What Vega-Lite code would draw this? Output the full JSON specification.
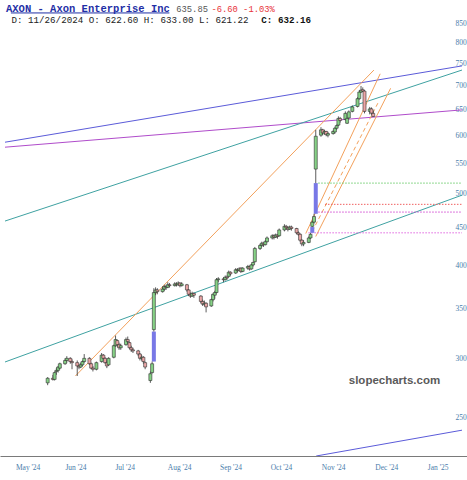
{
  "$schema": "https://vega.github.io/schema/vega-lite/v6.json",
  "width": 467,
  "height": 456,
  "autosize": {"type": "none"},
  "padding": {"left": 0, "top": 0, "right": 0, "bottom": 24},
  "background": "white",
  "config": {"view": {"stroke": null}},
  "title": {
    "text": "AXON - Axon Enterprise Inc",
    "subtitle": "\u200b\u00a0D: 11/26/2024 O: 622.60 H: 633.00 L: 621.22",
    "anchor": "start",
    "frame": "group",
    "offset": -25.5,
    "dx": 6,
    "font": "Liberation Mono",
    "fontSize": 10.5,
    "fontWeight": "bold",
    "color": "#1f2fa6",
    "subtitleFont": "Liberation Mono",
    "subtitleFontSize": 9.2,
    "subtitleColor": "#222222",
    "subtitlePadding": 2
  },
  "datasets": {
    "candles": [
      {"d":"2024-06-07","o":278,"h":283,"l":276,"c":282},
      {"d":"2024-06-10","o":282,"h":285,"l":280,"c":281},
      {"d":"2024-06-11","o":281,"h":288,"l":280,"c":287},
      {"d":"2024-06-12","o":288,"h":291,"l":285,"c":289},
      {"d":"2024-06-13","o":289,"h":293,"l":287,"c":292},
      {"d":"2024-06-14","o":291,"h":296,"l":290,"c":295},
      {"d":"2024-06-17","o":295,"h":300,"l":294,"c":298},
      {"d":"2024-06-18","o":298,"h":302,"l":296,"c":300},
      {"d":"2024-06-20","o":300,"h":301,"l":295,"c":297},
      {"d":"2024-06-21","o":297,"h":299,"l":290,"c":296},
      {"d":"2024-06-24","o":296,"h":298,"l":284,"c":293},
      {"d":"2024-06-25","o":293,"h":295,"l":290,"c":292},
      {"d":"2024-06-26","o":292,"h":296,"l":291,"c":294},
      {"d":"2024-06-27","o":294,"h":298,"l":293,"c":297},
      {"d":"2024-06-28","o":297,"h":304,"l":296,"c":300},
      {"d":"2024-07-01","o":300,"h":301,"l":294,"c":295},
      {"d":"2024-07-02","o":295,"h":296,"l":290,"c":291},
      {"d":"2024-07-03","o":291,"h":293,"l":288,"c":290},
      {"d":"2024-07-05","o":290,"h":297,"l":289,"c":296},
      {"d":"2024-07-08","o":297,"h":305,"l":296,"c":303},
      {"d":"2024-07-09","o":303,"h":304,"l":299,"c":300},
      {"d":"2024-07-10","o":300,"h":301,"l":295,"c":296},
      {"d":"2024-07-11","o":296,"h":298,"l":291,"c":293},
      {"d":"2024-07-12","o":294,"h":301,"l":293,"c":300},
      {"d":"2024-07-15","o":301,"h":313,"l":300,"c":312},
      {"d":"2024-07-16","o":312,"h":322,"l":311,"c":318},
      {"d":"2024-07-17","o":317,"h":318,"l":311,"c":313},
      {"d":"2024-07-18","o":313,"h":315,"l":308,"c":310},
      {"d":"2024-07-19","o":310,"h":314,"l":308,"c":312},
      {"d":"2024-07-22","o":313,"h":320,"l":312,"c":318},
      {"d":"2024-07-23","o":318,"h":321,"l":314,"c":316},
      {"d":"2024-07-24","o":315,"h":316,"l":309,"c":310},
      {"d":"2024-07-25","o":310,"h":312,"l":306,"c":308},
      {"d":"2024-07-26","o":308,"h":310,"l":305,"c":307},
      {"d":"2024-07-29","o":307,"h":308,"l":302,"c":304},
      {"d":"2024-07-30","o":304,"h":305,"l":298,"c":300},
      {"d":"2024-07-31","o":300,"h":303,"l":298,"c":301},
      {"d":"2024-08-01","o":301,"h":302,"l":295,"c":297},
      {"d":"2024-08-02","o":296,"h":297,"l":290,"c":292},
      {"d":"2024-08-05","o":280,"h":288,"l":278,"c":286},
      {"d":"2024-08-06","o":287,"h":297,"l":286,"c":295},
      {"d":"2024-08-07","o":328,"h":373,"l":326,"c":368},
      {"d":"2024-08-08","o":368,"h":374,"l":365,"c":371},
      {"d":"2024-08-09","o":371,"h":373,"l":366,"c":369},
      {"d":"2024-08-12","o":369,"h":375,"l":368,"c":372},
      {"d":"2024-08-13","o":372,"h":377,"l":370,"c":375},
      {"d":"2024-08-14","o":375,"h":377,"l":371,"c":374},
      {"d":"2024-08-15","o":374,"h":380,"l":373,"c":377},
      {"d":"2024-08-16","o":377,"h":379,"l":374,"c":376},
      {"d":"2024-08-19","o":376,"h":380,"l":375,"c":378},
      {"d":"2024-08-20","o":378,"h":380,"l":375,"c":377},
      {"d":"2024-08-21","o":377,"h":381,"l":376,"c":379},
      {"d":"2024-08-22","o":379,"h":380,"l":374,"c":376},
      {"d":"2024-08-23","o":376,"h":380,"l":375,"c":378},
      {"d":"2024-08-26","o":377,"h":378,"l":369,"c":371},
      {"d":"2024-08-27","o":371,"h":372,"l":364,"c":366},
      {"d":"2024-08-28","o":366,"h":368,"l":362,"c":364},
      {"d":"2024-08-29","o":364,"h":369,"l":363,"c":367},
      {"d":"2024-08-30","o":367,"h":368,"l":362,"c":365},
      {"d":"2024-09-03","o":364,"h":365,"l":356,"c":358},
      {"d":"2024-09-04","o":358,"h":360,"l":353,"c":355},
      {"d":"2024-09-05","o":355,"h":359,"l":353,"c":356},
      {"d":"2024-09-06","o":356,"h":357,"l":346,"c":352},
      {"d":"2024-09-09","o":353,"h":361,"l":352,"c":360},
      {"d":"2024-09-10","o":360,"h":367,"l":358,"c":366},
      {"d":"2024-09-11","o":365,"h":370,"l":361,"c":368},
      {"d":"2024-09-12","o":368,"h":385,"l":367,"c":383},
      {"d":"2024-09-13","o":383,"h":386,"l":380,"c":384},
      {"d":"2024-09-16","o":384,"h":386,"l":380,"c":383},
      {"d":"2024-09-17","o":383,"h":388,"l":382,"c":386},
      {"d":"2024-09-18","o":386,"h":388,"l":383,"c":385},
      {"d":"2024-09-19","o":387,"h":394,"l":386,"c":392},
      {"d":"2024-09-20","o":392,"h":393,"l":388,"c":390},
      {"d":"2024-09-23","o":391,"h":397,"l":390,"c":395},
      {"d":"2024-09-24","o":395,"h":397,"l":392,"c":394},
      {"d":"2024-09-25","o":394,"h":398,"l":393,"c":396},
      {"d":"2024-09-26","o":397,"h":398,"l":391,"c":393},
      {"d":"2024-09-27","o":393,"h":398,"l":392,"c":397},
      {"d":"2024-09-30","o":397,"h":401,"l":395,"c":399},
      {"d":"2024-10-01","o":399,"h":400,"l":394,"c":396},
      {"d":"2024-10-02","o":396,"h":402,"l":395,"c":401},
      {"d":"2024-10-03","o":401,"h":405,"l":399,"c":404},
      {"d":"2024-10-04","o":405,"h":424,"l":404,"c":422},
      {"d":"2024-10-07","o":422,"h":428,"l":420,"c":426},
      {"d":"2024-10-08","o":426,"h":431,"l":424,"c":429},
      {"d":"2024-10-09","o":429,"h":430,"l":424,"c":427},
      {"d":"2024-10-10","o":427,"h":433,"l":426,"c":431},
      {"d":"2024-10-11","o":431,"h":438,"l":430,"c":436},
      {"d":"2024-10-14","o":436,"h":441,"l":434,"c":439},
      {"d":"2024-10-15","o":439,"h":441,"l":434,"c":437},
      {"d":"2024-10-16","o":437,"h":442,"l":436,"c":440},
      {"d":"2024-10-17","o":440,"h":441,"l":435,"c":438},
      {"d":"2024-10-18","o":439,"h":449,"l":438,"c":447},
      {"d":"2024-10-21","o":447,"h":455,"l":445,"c":452},
      {"d":"2024-10-22","o":452,"h":454,"l":447,"c":450},
      {"d":"2024-10-23","o":450,"h":452,"l":445,"c":448},
      {"d":"2024-10-24","o":448,"h":453,"l":447,"c":451},
      {"d":"2024-10-25","o":451,"h":453,"l":446,"c":449},
      {"d":"2024-10-28","o":449,"h":450,"l":441,"c":443},
      {"d":"2024-10-29","o":443,"h":445,"l":439,"c":441},
      {"d":"2024-10-30","o":441,"h":442,"l":431,"c":433},
      {"d":"2024-10-31","o":433,"h":434,"l":425,"c":428},
      {"d":"2024-11-01","o":428,"h":433,"l":425,"c":430},
      {"d":"2024-11-04","o":430,"h":438,"l":429,"c":436},
      {"d":"2024-11-05","o":436,"h":443,"l":435,"c":441},
      {"d":"2024-11-06","o":452,"h":460,"l":451,"c":458},
      {"d":"2024-11-07","o":458,"h":470,"l":456,"c":466},
      {"d":"2024-11-08","o":540,"h":610,"l":517,"c":598},
      {"d":"2024-11-11","o":600,"h":615,"l":597,"c":610},
      {"d":"2024-11-12","o":610,"h":612,"l":600,"c":604},
      {"d":"2024-11-13","o":604,"h":610,"l":601,"c":607},
      {"d":"2024-11-14","o":607,"h":608,"l":598,"c":601},
      {"d":"2024-11-15","o":600,"h":606,"l":596,"c":603},
      {"d":"2024-11-18","o":603,"h":609,"l":601,"c":607},
      {"d":"2024-11-19","o":606,"h":615,"l":603,"c":613},
      {"d":"2024-11-20","o":613,"h":620,"l":610,"c":618},
      {"d":"2024-11-21","o":619,"h":636,"l":617,"c":632},
      {"d":"2024-11-22","o":632,"h":635,"l":624,"c":628},
      {"d":"2024-11-25","o":630,"h":646,"l":628,"c":642},
      {"d":"2024-11-26","o":622.6,"h":633,"l":621.22,"c":632.16},
      {"d":"2024-11-27","o":633,"h":648,"l":631,"c":645},
      {"d":"2024-11-29","o":646,"h":658,"l":644,"c":655},
      {"d":"2024-12-02","o":656,"h":675,"l":654,"c":672},
      {"d":"2024-12-03","o":672,"h":690,"l":670,"c":686},
      {"d":"2024-12-04","o":686,"h":699,"l":684,"c":690},
      {"d":"2024-12-05","o":691,"h":696,"l":686,"c":688},
      {"d":"2024-12-06","o":688,"h":690,"l":642,"c":646},
      {"d":"2024-12-09","o":646,"h":655,"l":640,"c":651},
      {"d":"2024-12-10","o":651,"h":654,"l":639,"c":642.45},
      {"d":"2024-12-11","o":642,"h":648,"l":635,"c":635.85}
    ],
    "gaps": [
      {"d":"2024-08-07","lo":297,"hi":326},
      {"d":"2024-11-06","lo":443,"hi":451},
      {"d":"2024-11-08","lo":470,"hi":517}
    ],
    "lines": [
      {"id":"ch_top","d":"2024-05-13T12:00:00Z","p":587},
      {"id":"ch_top","d":"2025-01-31T00:00:00Z","p":744},
      {"id":"mid","d":"2024-05-13T12:00:00Z","p":578},
      {"id":"mid","d":"2025-01-31T00:00:00Z","p":649},
      {"id":"tl_up","d":"2024-05-13T12:00:00Z","p":459.5},
      {"id":"tl_up","d":"2025-01-31T00:00:00Z","p":734.5},
      {"id":"tl_low","d":"2024-05-13T12:00:00Z","p":296.6},
      {"id":"tl_low","d":"2025-01-31T00:00:00Z","p":498},
      {"id":"ch_bot","d":"2024-11-08T06:00:00Z","p":221.5},
      {"id":"ch_bot","d":"2025-01-31T00:00:00Z","p":240},
      {"id":"or1","d":"2024-06-22T23:00:00Z","p":284},
      {"id":"or1","d":"2024-12-11T10:00:00Z","p":734.5},
      {"id":"or2","d":"2024-11-02T06:00:00Z","p":442},
      {"id":"or2","d":"2024-12-15T00:00:00Z","p":726},
      {"id":"or3","d":"2024-11-08T00:00:00Z","p":438},
      {"id":"or3","d":"2024-12-21T00:00:00Z","p":694}
    ],
    "dashed": [
      {"id":"or_d","d":"2024-11-06T00:00:00Z","p":445},
      {"id":"or_d","d":"2024-12-14T00:00:00Z","p":665}
    ],
    "levels": [
      {"id":"lv1","d":"2024-11-09T10:00:00Z","p":517},
      {"id":"lv1","d":"2025-01-31T00:00:00Z","p":517},
      {"id":"lv2","d":"2024-11-13T07:00:00Z","p":484},
      {"id":"lv2","d":"2025-01-31T00:00:00Z","p":484},
      {"id":"lv3","d":"2024-11-09T10:00:00Z","p":472.5},
      {"id":"lv3","d":"2025-01-31T00:00:00Z","p":472.5},
      {"id":"lv4","d":"2024-11-03T18:00:00Z","p":443},
      {"id":"lv4","d":"2025-01-31T00:00:00Z","p":443}
    ],
    "underline": [
      {"d":"2024-05-16T21:00:00Z","d2":"2024-08-15T22:00:00Z","p":877}
    ],
    "texts": [
      {"t":"635.85"}
    ],
    "texts2": [
      {"t":"-6.60 -1.03%"}
    ],
    "texts3": [
      {"t":"C: 632.16"}
    ],
    "mark": [
      {"t":"slopecharts.com"}
    ]
  },
  "layer": [
    {
      "data": {"name": "lines"},
      "mark": {"type": "line", "strokeWidth": 1, "clip": true},
      "encoding": {
        "x": {"field": "d", "type": "temporal",
          "scale": {"type": "utc", "domain": [{"year":2024,"month":5,"date":13,"hours":12,"utc":true},{"year":2025,"month":1,"date":31,"utc":true}]},
          "axis": {"title": null, "values": [
            {"year":2024,"month":5,"date":26,"hours":12,"utc":true},
            {"year":2024,"month":6,"date":23,"utc":true},
            {"year":2024,"month":7,"date":21,"hours":6,"utc":true},
            {"year":2024,"month":8,"date":21,"hours":12,"utc":true},
            {"year":2024,"month":9,"date":20,"utc":true},
            {"year":2024,"month":10,"date":19,"utc":true},
            {"year":2024,"month":11,"date":18,"utc":true},
            {"year":2024,"month":12,"date":18,"hours":12,"utc":true},
            {"year":2025,"month":1,"date":17,"utc":true}
          ], "format": "%b '%y", "ticks": false, "grid": false, "labelPadding": 7,
          "labelFont": "Liberation Serif", "labelFontSize": 7.5, "labelColor": "#4a7dab",
          "domainColor": "#7a7a7a", "domainWidth": 1, "labelFlush": false}},
        "y": {"field": "p", "type": "quantitative",
          "scale": {"type": "log", "domain": [221.5, 913], "nice": false},
          "axis": {"title": null, "orient": "right", "offset": -12, "values": [250,300,350,400,450,500,550,600,650,700,750,800,850],
            "format": "d", "domain": false, "ticks": false, "grid": false, "labelPadding": 0,
            "labelFont": "Liberation Serif", "labelFontSize": 7.5, "labelColor": "#4a7dab", "labelAlign": "left"}},
        "color": {"field": "id", "type": "nominal", "legend": null,
          "scale": {"domain": ["ch_top","mid","tl_up","tl_low","ch_bot","or1","or2","or3"],
                    "range": ["#5b5bd9","#b04ccb","#3fa2a2","#3fa2a2","#5b5bd9","#f3a15c","#f3a15c","#f3a15c"]}}
      }
    },
    {
      "data": {"name": "dashed"},
      "mark": {"type": "line", "strokeWidth": 1, "strokeDash": [4, 3], "color": "#f3a15c", "clip": true},
      "encoding": {
        "x": {"field": "d", "type": "temporal"},
        "y": {"field": "p", "type": "quantitative"}
      }
    },
    {
      "data": {"name": "levels"},
      "mark": {"type": "line", "strokeWidth": 1, "strokeDash": [1.5, 1.5], "clip": true},
      "encoding": {
        "x": {"field": "d", "type": "temporal"},
        "y": {"field": "p", "type": "quantitative"},
        "stroke": {"field": "id", "type": "nominal", "legend": null,
          "scale": {"domain": ["lv1","lv2","lv3","lv4"], "range": ["#6ccc6c","#f06060","#d24ad2","#e066e0"]}}
      }
    },
    {
      "data": {"name": "gaps"},
      "mark": {"type": "bar", "width": 4, "color": "#7878e6"},
      "encoding": {
        "x": {"field": "d", "type": "temporal"},
        "y": {"field": "lo", "type": "quantitative"},
        "y2": {"field": "hi"}
      }
    },
    {
      "data": {"name": "candles"},
      "mark": {"type": "rule", "color": "#333333", "strokeWidth": 0.8},
      "encoding": {
        "x": {"field": "d", "type": "temporal"},
        "y": {"field": "l", "type": "quantitative"},
        "y2": {"field": "h"}
      }
    },
    {
      "data": {"name": "candles"},
      "mark": {"type": "bar", "width": 3, "stroke": "#2f2f2f", "strokeWidth": 0.6},
      "encoding": {
        "x": {"field": "d", "type": "temporal"},
        "y": {"field": "o", "type": "quantitative"},
        "y2": {"field": "c"},
        "fill": {"condition": {"test": "datum.c >= datum.o", "value": "#86d286"}, "value": "#eca6a6"}
      }
    },
    {
      "data": {"name": "underline"},
      "mark": {"type": "rule", "color": "#1f2fa6", "strokeWidth": 1},
      "encoding": {
        "x": {"field": "d", "type": "temporal"},
        "x2": {"field": "d2"},
        "y": {"field": "p", "type": "quantitative"}
      }
    },
    {
      "data": {"name": "texts"},
      "mark": {"type": "text", "font": "Liberation Mono", "fontSize": 8.8, "color": "#555555", "align": "left", "baseline": "alphabetic"},
      "encoding": {
        "x": {"datum": {"year":2024,"month":8,"date":19,"hours":21,"utc":true}, "type": "temporal"},
        "y": {"datum": 880.7, "type": "quantitative"},
        "text": {"field": "t"}
      }
    },
    {
      "data": {"name": "texts2"},
      "mark": {"type": "text", "font": "Liberation Mono", "fontSize": 8.8, "color": "#e8333a", "align": "left", "baseline": "alphabetic"},
      "encoding": {
        "x": {"datum": {"year":2024,"month":9,"date":9,"hours":2,"utc":true}, "type": "temporal"},
        "y": {"datum": 880.7, "type": "quantitative"},
        "text": {"field": "t"}
      }
    },
    {
      "data": {"name": "texts3"},
      "mark": {"type": "text", "font": "Liberation Mono", "fontSize": 9.2, "fontWeight": "bold", "color": "#111111", "align": "left", "baseline": "alphabetic"},
      "encoding": {
        "x": {"datum": {"year":2024,"month":10,"date":7,"hours":18,"utc":true}, "type": "temporal"},
        "y": {"datum": 851, "type": "quantitative"},
        "text": {"field": "t"}
      }
    },
    {
      "data": {"name": "mark"},
      "mark": {"type": "text", "font": "Liberation Sans", "fontSize": 11.5, "fontWeight": "bold", "color": "#5a5a5a", "align": "center", "baseline": "alphabetic"},
      "encoding": {
        "x": {"datum": {"year":2024,"month":12,"date":23,"hours":5,"utc":true}, "type": "temporal"},
        "y": {"datum": 277, "type": "quantitative"},
        "text": {"field": "t"}
      }
    }
  ]
}
